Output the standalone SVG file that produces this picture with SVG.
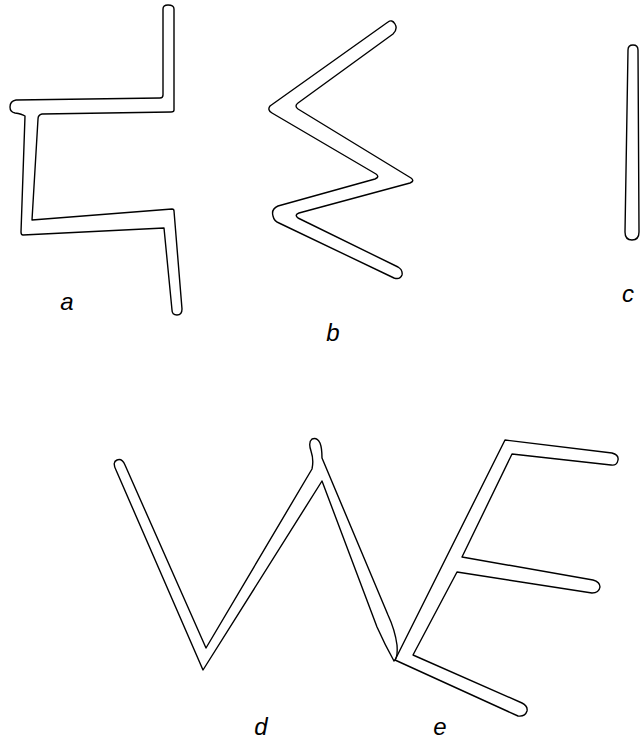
<svg xmlns="http://www.w3.org/2000/svg" width="640" height="741" viewBox="0 0 640 741">
<style>
.o{fill:none;stroke:#000;stroke-width:1.4;stroke-linejoin:round;stroke-linecap:round}
.l{font-family:"Liberation Sans",Arial,sans-serif;font-style:italic;font-size:24px;fill:#000;text-anchor:middle}
</style>
<rect width="640" height="741" fill="#fff"/>
<g id="a">
<path class="o" d="M163,9 Q163,5 168,5 Q174,5 174,9 L174,110 Q174,112 171,112 L42,114 Q38,115 38,119 L32,220 L172,209 Q174,209 174,211 L182,309 Q182,315 177,315 Q172,315 172,310 L164,228 L23,235 Q21,235 21,232 L25,116 Q22,114 15,113 Q10,112 10,107 Q10,101 16,100 L160,98 Q163,98 163,95 Z"/>
<text class="l" x="67" y="310">a</text>
</g>
<g id="b">
<path class="o" d="M388,22 L270,106 Q267,110 272,113 L376,174 Q380,177 375,179 L278,206 Q271,209 273,216 Q274,221 279,223 L394,278 Q400,280 402,275 Q403,270 398,267 L298,218 Q294,215 299,213 L410,183 Q415,181 411,178 L298,109 Q294,106 298,103 L393,34 Q398,29 395,24 Q392,19 388,22 Z"/>
<text class="l" x="333" y="341">b</text>
</g>
<g id="c">
<path class="o" d="M628,50 Q628,45 633,45 Q638,45 638,50 L639,232 Q639,240 632,240 Q625,240 625,232 Z"/>
<text class="l" x="628" y="302">c</text>
</g>
<g id="d">
<path class="o" d="M116,470 Q112,462 117,460 Q122,458 125,465 L206,648 L312,469 Q314,460 311,451 Q308,442 312,439 Q317,437 320,443 Q322,448 322,458 L388,615 Q395,630 397,645 Q398,658 394,661 Q385,645 377,627 L322,481 L203,670 Z"/>
<text class="l" x="261" y="735">d</text>
</g>
<g id="e">
<path class="o" d="M395,660 L505,440 L612,453 Q619,455 618,460 Q617,466 611,465 L512,454 L462,557 L593,580 Q600,582 600,587 Q599,593 592,593 L457,572 L413,655 L522,703 Q528,706 527,711 Q525,717 518,716 Z"/>
<text class="l" x="440" y="735">e</text>
</g>
</svg>
